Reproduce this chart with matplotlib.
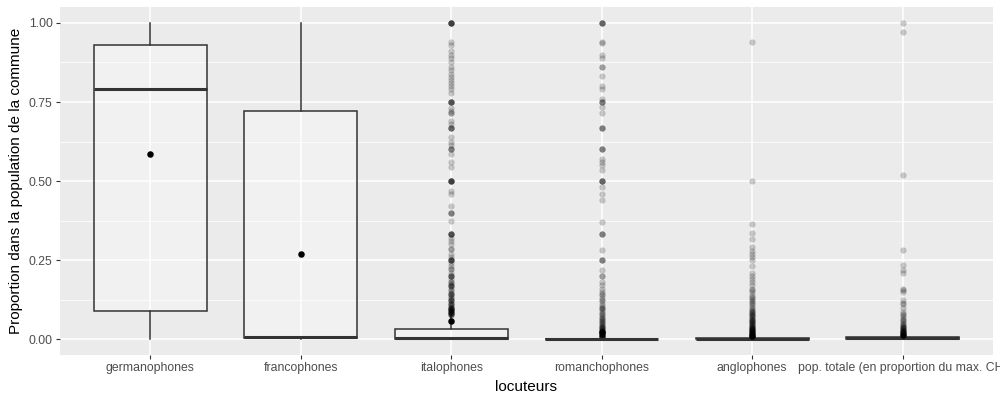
import matplotlib.pyplot as plt

plt.rcParams['font.family'] = ['Liberation Sans', 'DejaVu Sans']

categories = ['germanophones', 'francophones', 'italophones', 'romanchophones',
              'anglophones', 'pop. totale (en proportion du max. CH)']
q1 = [0.09, 0.003, 0.0, 0.0, 0.0, 0.002]
medians = [0.79, 0.008, 0.003, 0.0, 0.001, 0.004]
q3 = [0.93, 0.72, 0.031, 0.002, 0.004, 0.008]
whisk_lo = [0.0, 0.0, 0.0, 0.0, 0.0, 0.0]
whisk_hi = [1.0, 1.0, 0.075, 0.005, 0.01, 0.017]
means = [0.585, 0.27, 0.057, 0.022, 0.01, 0.012]

out_germ = []
out_franco = []
out_ital = [1.0, 1.0, 1.0, 1.0, 1.0, 1.0, 0.94, 0.93, 0.91, 0.9, 0.89, 0.875,
            0.86, 0.85, 0.84, 0.83, 0.82, 0.81, 0.8, 0.79, 0.78,
            0.75, 0.75, 0.75, 0.75, 0.75, 0.73, 0.72, 0.714, 0.714, 0.69, 0.68,
            0.667, 0.667, 0.667, 0.667, 0.64, 0.625, 0.615, 0.6, 0.6, 0.6,
            0.585, 0.56, 0.545, 0.5, 0.5, 0.5, 0.5, 0.5, 0.5, 0.47, 0.46,
            0.42, 0.4, 0.4, 0.4, 0.375, 0.333, 0.333, 0.333, 0.333, 0.333,
            0.32, 0.31, 0.3, 0.286, 0.286, 0.27, 0.26, 0.25, 0.25, 0.25, 0.25,
            0.25, 0.24, 0.23, 0.222, 0.222, 0.21, 0.2, 0.2, 0.2, 0.2, 0.19,
            0.182, 0.182, 0.176, 0.17, 0.167, 0.167, 0.167, 0.16, 0.154, 0.15,
            0.143, 0.143, 0.143, 0.14, 0.133, 0.13, 0.125, 0.125, 0.125, 0.12,
            0.115, 0.111, 0.111, 0.107, 0.105, 0.1, 0.1, 0.1, 0.1, 0.097,
            0.095, 0.093, 0.091, 0.091, 0.09, 0.088, 0.087, 0.085, 0.083,
            0.083, 0.082, 0.08, 0.079, 0.078, 0.077]
out_roman = [1.0, 1.0, 1.0, 1.0, 0.94, 0.935, 0.9, 0.89, 0.86, 0.86, 0.833,
             0.8, 0.79, 0.76, 0.75, 0.75, 0.75, 0.733, 0.714, 0.667, 0.667,
             0.667, 0.6, 0.6, 0.6, 0.57, 0.56, 0.55, 0.535, 0.5, 0.5, 0.5,
             0.5, 0.48, 0.46, 0.44, 0.37, 0.333, 0.333, 0.333, 0.283, 0.25,
             0.25, 0.25, 0.22, 0.2, 0.2, 0.18, 0.17, 0.16, 0.15, 0.143, 0.14,
             0.13, 0.125, 0.12, 0.111, 0.105, 0.1, 0.1, 0.095, 0.09, 0.083,
             0.08, 0.077, 0.071, 0.067, 0.063, 0.06, 0.056, 0.053, 0.05, 0.048,
             0.045, 0.043, 0.04, 0.038, 0.036, 0.034, 0.032, 0.03, 0.028,
             0.026, 0.025, 0.024, 0.022, 0.02, 0.019, 0.018, 0.017, 0.016,
             0.015, 0.014, 0.013, 0.012, 0.011, 0.01, 0.009, 0.008, 0.007,
             0.006, 0.006]
out_angl = [0.94, 0.5, 0.365, 0.336, 0.318, 0.29, 0.28, 0.27, 0.26, 0.25,
            0.23, 0.21, 0.2, 0.19, 0.18, 0.17, 0.16, 0.155, 0.15, 0.14, 0.135,
            0.13, 0.125, 0.12, 0.115, 0.11, 0.105, 0.1, 0.095, 0.09, 0.088,
            0.085, 0.082, 0.08, 0.077, 0.075, 0.072, 0.07, 0.067, 0.065, 0.062,
            0.06, 0.058, 0.056, 0.054, 0.052, 0.05, 0.048, 0.046, 0.044, 0.042,
            0.04, 0.038, 0.036, 0.035, 0.034, 0.032, 0.031, 0.03, 0.029, 0.028,
            0.027, 0.026, 0.025, 0.024, 0.023, 0.022, 0.021, 0.02, 0.019,
            0.018, 0.017, 0.016, 0.015, 0.014, 0.013, 0.012, 0.011]
out_pop = [1.0, 0.97, 0.52, 0.283, 0.236, 0.22, 0.21, 0.16, 0.155, 0.15,
           0.125, 0.115, 0.11, 0.1, 0.085, 0.08, 0.075, 0.07, 0.065, 0.06,
           0.056, 0.052, 0.048, 0.045, 0.042, 0.04, 0.038, 0.036, 0.034,
           0.032, 0.03, 0.028, 0.027, 0.026, 0.025, 0.024, 0.023, 0.022, 0.021,
           0.02, 0.019, 0.018]
outliers = [out_germ, out_franco, out_ital, out_roman, out_angl, out_pop]

stats = []
for i, name in enumerate(categories):
    stats.append({'label': name, 'q1': q1[i], 'med': medians[i], 'q3': q3[i],
                  'whislo': whisk_lo[i], 'whishi': whisk_hi[i],
                  'fliers': outliers[i]})

fig = plt.figure(figsize=(10, 3.96), dpi=100)
ax = fig.add_axes([0.06, 0.1035, 0.933, 0.8785])
ax.set_facecolor('#ebebeb')
positions = list(range(1, len(categories) + 1))

# grid
for y in [0.125, 0.375, 0.625, 0.875]:
    ax.axhline(y, color='white', lw=0.55, zorder=0)
for y in [0, 0.25, 0.5, 0.75, 1.0]:
    ax.axhline(y, color='white', lw=1.1, zorder=0)
for x in positions:
    ax.axvline(x, color='white', lw=1.1, zorder=0)

ax.bxp(stats, positions=positions, widths=0.75, patch_artist=True,
       showcaps=False, manage_ticks=False,
       boxprops=dict(facecolor=(1, 1, 1, 0.35), edgecolor='#333333', lw=1.1),
       medianprops=dict(color='#333333', lw=2.2, solid_capstyle='butt'),
       whiskerprops=dict(color='#333333', lw=1.1),
       flierprops=dict(marker='o', markersize=4.5, markerfacecolor='black',
                       markeredgecolor='none', alpha=0.2))

ax.scatter(positions, means, s=22, color='black', zorder=5, linewidths=0)

ax.set_xlim(0.4, len(categories) + 0.6)
ax.set_ylim(-0.05, 1.05)
ax.set_yticks([0, 0.25, 0.5, 0.75, 1.0])
ax.set_yticklabels(['0.00', '0.25', '0.50', '0.75', '1.00'])
ax.set_xticks(positions)
ax.set_xticklabels(categories)
ax.tick_params(colors='#333333', labelcolor='#4d4d4d', labelsize=8.8,
               length=2.75, width=0.8, pad=2.5)
for s in ax.spines.values():
    s.set_visible(False)
ax.set_xlabel('locuteurs', fontsize=11, color='black', labelpad=4)
ax.set_ylabel('Proportion dans la population de la commune', fontsize=11,
              color='black', labelpad=4)

fig.savefig('out.png', dpi=100)
